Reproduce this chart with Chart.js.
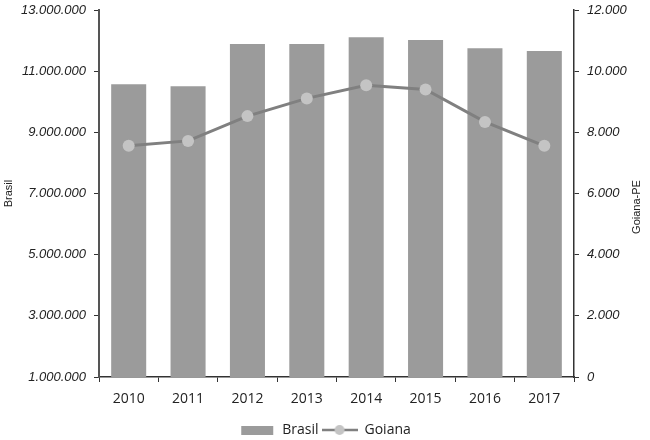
<!DOCTYPE html>
<html><head><meta charset="utf-8">
<script src="https://cdn.jsdelivr.net/npm/chart.js@4/dist/chart.umd.min.js"></script>
<style>html,body{margin:0;padding:0;background:#fff}#wrap{width:650px;height:440px;position:relative}</style>
</head><body><div id="wrap"><canvas id="c"></canvas></div>
<script>
const years = ['2010','2011','2012','2013','2014','2015','2016','2017'];
const brasil = [10570000, 10510000, 11890000, 11890000, 12110000, 12020000, 11750000, 11660000];
const goiana = [7560, 7720, 8530, 9110, 9540, 9400, 8340, 7560];
const leftTitle = 'Brasil';
const rightTitle = 'Goiana-PE';

function fmt(n){ return String(Math.round(n)).replace(/\B(?=(\d{3})+(?!\d))/g, '.'); }

function legendImg(kind){
  const cv = document.createElement('canvas');
  cv.width = 36; cv.height = 12;
  const g = cv.getContext('2d');
  if (kind === 'bar') { g.fillStyle = '#9b9b9b'; g.fillRect(2, 2, 32, 9); }
  else {
    g.strokeStyle = '#808080'; g.lineWidth = 2.5;
    g.beginPath(); g.moveTo(0, 6); g.lineTo(36, 6); g.stroke();
    g.fillStyle = '#c4c4c4'; g.beginPath(); g.arc(18, 6, 5, 0, Math.PI*2); g.fill();
  }
  return cv;
}

const rightTitlePlugin = {
  id: 'rt',
  afterDraw(chart){
    const ctx = chart.ctx;
    ctx.save();
    ctx.translate(637, 207);
    ctx.rotate(-Math.PI/2);
    ctx.font = '11px "Liberation Sans"';
    ctx.fillStyle = '#222';
    ctx.textAlign = 'center'; ctx.textBaseline = 'middle';
    ctx.fillText(rightTitle, 0, 0);
    ctx.restore();
  }
};

const tickFont = {family: '"Liberation Sans"', size: 13, style: 'italic'};
new Chart(document.getElementById('c'), {
  data: {
    labels: years,
    datasets: [
      {type: 'bar', label: 'Brasil', data: brasil, yAxisID: 'yL', backgroundColor: '#9b9b9b',
       barPercentage: 0.59, categoryPercentage: 1, order: 1},
      {type: 'line', label: 'Goiana', data: goiana, yAxisID: 'yR', borderColor: '#808080', borderWidth: 3,
       pointBackgroundColor: '#c4c4c4', pointBorderWidth: 0, pointRadius: 6, pointHoverRadius: 6, order: 0, tension: 0}
    ]
  },
  options: {
    responsive: true, maintainAspectRatio: false, animation: false,
    layout: {padding: {top: 10, right: 0, left: 0, bottom: -7}},
    plugins: {
      tooltip: {enabled: false},
      legend: {
        position: 'bottom',
        labels: {
          usePointStyle: true, pointStyleWidth: 36, boxHeight: 12,
          font: {family: '"Open Sans"', size: 14}, color: '#222', padding: 3,
          generateLabels(chart){
            return chart.data.datasets.map((d, i) => ({
              text: d.label, pointStyle: legendImg(d.type), datasetIndex: i,
              fillStyle: '#9b9b9b', strokeStyle: '#9b9b9b', lineWidth: 0, hidden: false, fontColor: '#222'
            }));
          }
        }
      }
    },
    scales: {
      x: {
        offset: true,
        grid: {display: true, drawOnChartArea: false, drawTicks: true, tickLength: 5, offset: true, color: '#333'},
        border: {color: '#333', width: 1.5},
        ticks: {font: {family: '"Open Sans"', size: 14}, color: '#222', padding: 9},
        afterFit(s){ s.height = 43; }
      },
      yL: {
        position: 'left', min: 1000000, max: 13000000,
        ticks: {stepSize: 2000000, callback: v => fmt(v), font: tickFont, color: '#222', padding: 8},
        grid: {drawOnChartArea: false, drawTicks: true, tickLength: 5, color: '#333'},
        border: {color: '#555', width: 2},
        title: {display: true, text: leftTitle, font: {family: '"Liberation Sans"', size: 11}, color: '#222', padding: {top: 2, bottom: 0}},
        afterFit(s){ s.width = 99; s.paddingTop = 0; s.paddingBottom = 0; }
      },
      yR: {
        position: 'right', min: 0, max: 12000,
        ticks: {stepSize: 2000, callback: v => fmt(v), font: tickFont, color: '#222', padding: 8},
        grid: {drawOnChartArea: false, drawTicks: true, tickLength: 5, color: '#333'},
        border: {color: '#333', width: 1.5},
        afterFit(s){ s.width = 76; s.paddingTop = 0; s.paddingBottom = 0; }
      }
    }
  },
  plugins: [rightTitlePlugin]
});
</script>
</body></html>
